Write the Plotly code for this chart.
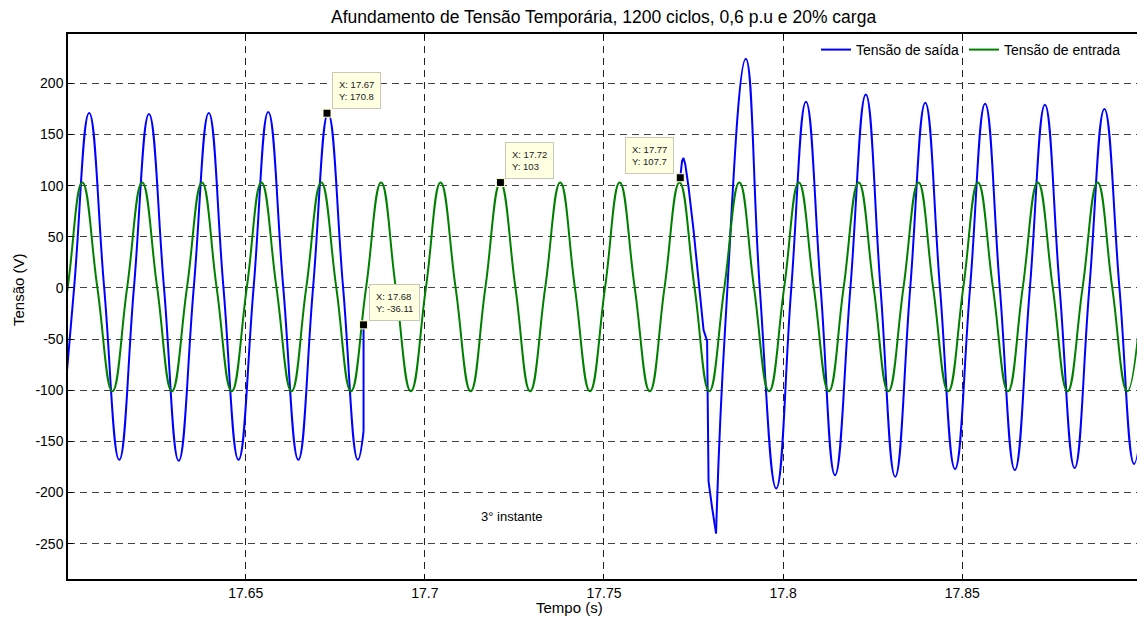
import plotly.graph_objects as go

# ---------------- data ----------------
# Input voltage (green): extreme points and zero crossings (time s, volts)
green_t = [17.5961, 17.6003, 17.6044, 17.6086, 17.6128, 17.6169, 17.6211, 17.6253, 17.6294,
           17.6336, 17.6378, 17.6419, 17.6461, 17.6503, 17.6544, 17.6586, 17.6628, 17.6669,
           17.6711, 17.6753, 17.6794, 17.6836, 17.6878, 17.6919, 17.6961, 17.7003, 17.7044,
           17.7086, 17.7128, 17.7169, 17.7211, 17.7253, 17.7294, 17.7336, 17.7378, 17.7419,
           17.7461, 17.7503, 17.7544, 17.7586, 17.7628, 17.7669, 17.7711, 17.7753, 17.7794,
           17.7836, 17.7878, 17.7919, 17.7961, 17.8003, 17.8044, 17.8086, 17.8128, 17.8169,
           17.8211, 17.8253, 17.8294, 17.8336, 17.8378, 17.8419, 17.8461, 17.8503, 17.8544,
           17.8586, 17.8628, 17.8669, 17.8711, 17.8753, 17.8794, 17.8836, 17.8878, 17.8919,
           17.8961, 17.9003]
green_v = [-101, 0, 103, 0, -101, 0, 103, 0, -101,
           0, 103, 0, -101, 0, 103, 0, -101, 0,
           103, 0, -101, 0, 103, 0, -101, 0, 103,
           0, -101, 0, 103, 0, -101, 0, 103, 0,
           -101, 0, 103, 0, -101, 0, 103, 0, -101,
           0, 103, 0, -101, 0, 103, 0, -101, 0,
           103, 0, -101, 0, 103, 0, -101, 0, 103,
           0, -101, 0, 103, 0, -101, 0, 103, 0,
           -101, 0]

# Output voltage (blue) before the sag
blue1_t = [17.5980, 17.6021, 17.6063, 17.6105, 17.6147, 17.6188, 17.6230, 17.6272, 17.6313,
           17.6355, 17.6397, 17.6438, 17.6480, 17.6522, 17.6563, 17.6605, 17.6647, 17.6688,
           17.6730, 17.6772, 17.6813, 17.6829]
blue1_v = [-168, 0, 171, 0, -168, 0, 170, 0, -169,
           0, 171, 0, -168, 0, 172, 0, -168, 0,
           170.8, 0, -168, -140]

# Output voltage: step onto the input waveform at the start of the sag
bluejump_t = [17.6829, 17.6829]
bluejump_v = [-140, -36.11]

# Output voltage: recovery transient
blue2a_t = [17.7713, 17.7715, 17.7718, 17.7722, 17.7727, 17.7736, 17.7750, 17.7778,
            17.7785, 17.7788, 17.7790, 17.7792, 17.7802, 17.7813]
blue2a_v = [107.7, 118, 124, 127, 121, 99, 57, -41,
            -50, -52, -120, -189, -215, -240]

# Output voltage after recovery
blue2b_t = [17.7813, 17.7838, 17.7896, 17.7935, 17.7981, 17.8023, 17.8064, 17.8105, 17.8145,
            17.8188, 17.8231, 17.8272, 17.8313, 17.8355, 17.8397, 17.8438, 17.8480, 17.8522,
            17.8564, 17.8605, 17.8647, 17.8689, 17.8731, 17.8772, 17.8814, 17.8855, 17.8897,
            17.8939, 17.8980, 17.9022]
blue2b_v = [-240, -41, 224, 0, -196, 0, 182, 0, -183,
            0, 189, 0, -184.5, 0, 181, 0, -177, 0,
            180, 0, -178, 0, 179, 0, -176, 0, 175,
            0, -172, 0]

# Data tips
tip_x = [17.6727, 17.6829, 17.7211, 17.7713]
tip_y = [170.8, -36.11, 103, 107.7]
tip_text = ["X: 17.67<br>Y: 170.8", "X: 17.68<br>Y: -36.11",
            "X: 17.72<br>Y: 103", "X: 17.77<br>Y: 107.7"]
tip_side = ["right", "right", "right", "left"]

x_ticks = [17.65, 17.7, 17.75, 17.8, 17.85]
x_ticklabels = ["17.65", "17.7", "17.75", "17.8", "17.85"]
y_ticks = [-250, -200, -150, -100, -50, 0, 50, 100, 150, 200]
y_ticklabels = ["-250", "-200", "-150", "-100", "-50", "0", "50", "100", "150", "200"]

title_text = "Afundamento de Tensão Temporária, 1200 ciclos, 0,6 p.u e 20% carga"
x_label = "Tempo (s)"
y_label = "Tensão (V)"
note_text = "3° instante"
note_x, note_y = 17.7244, -223

BLUE = "#0000ff"
GREEN = "#008000"
FONT = "Liberation Sans, Arial, sans-serif"

W, H = 1137, 621
ML, MR, MT, MB = 68, 0, 34, 42
PLOT_L, PLOT_T, PLOT_W, PLOT_H = 68, 34, 1069, 545   # plot area in window pixels


def px_x(px):
    return (px - PLOT_L) / PLOT_W


def px_y(py):
    return (PLOT_T + PLOT_H - py) / PLOT_H


fig = go.Figure()
fig.add_trace(go.Scatter(x=blue1_t, y=blue1_v, mode="lines", name="Tensão de saída",
                         line=dict(color=BLUE, width=2, shape="spline", smoothing=1.3),
                         legendgroup="out"))
fig.add_trace(go.Scatter(x=bluejump_t, y=bluejump_v, mode="lines", showlegend=False,
                         line=dict(color=BLUE, width=2), legendgroup="out"))
fig.add_trace(go.Scatter(x=blue2a_t, y=blue2a_v, mode="lines", showlegend=False,
                         line=dict(color=BLUE, width=2), legendgroup="out"))
fig.add_trace(go.Scatter(x=blue2b_t, y=blue2b_v, mode="lines", showlegend=False,
                         line=dict(color=BLUE, width=2, shape="spline", smoothing=1.3),
                         legendgroup="out"))
fig.add_trace(go.Scatter(x=green_t, y=green_v, mode="lines", name="Tensão de entrada",
                         line=dict(color=GREEN, width=2, shape="spline", smoothing=1.3)))
fig.add_trace(go.Scatter(x=tip_x, y=tip_y, mode="markers", showlegend=False,
                         marker=dict(symbol="square", size=8, color="black",
                                     line=dict(color="#ffffcc", width=1))))

annotations = []
for tx, ty, tt, side in zip(tip_x, tip_y, tip_text, tip_side):
    annotations.append(dict(
        x=tx, y=ty, xref="x", yref="y", text=tt, showarrow=False, align="left",
        xanchor="left" if side == "right" else "right", yanchor="bottom",
        xshift=5 if side == "right" else -6, yshift=4,
        font=dict(family=FONT, size=9.5, color="#222"),
        bgcolor="#ffffe1", bordercolor="#c8c8b4", borderwidth=1, borderpad=6))

annotations.append(dict(x=note_x, y=note_y, xref="x", yref="y", text=note_text,
                        showarrow=False, xanchor="center", yanchor="middle",
                        font=dict(family=FONT, size=13, color="black")))
annotations.append(dict(x=px_x(603), y=px_y(17), xref="paper", yref="paper", text=title_text,
                        showarrow=False, xanchor="center", yanchor="middle",
                        font=dict(family=FONT, size=17.5, color="black")))
annotations.append(dict(x=px_x(569), y=px_y(607), xref="paper", yref="paper", text=x_label,
                        showarrow=False, xanchor="center", yanchor="middle",
                        font=dict(family=FONT, size=15, color="black")))
annotations.append(dict(x=px_x(18), y=px_y(290), xref="paper", yref="paper", text=y_label,
                        showarrow=False, textangle=-90, xanchor="center", yanchor="middle",
                        font=dict(family=FONT, size=15, color="black")))

fig.update_layout(
    width=W, height=H,
    margin=dict(l=ML, r=MR, t=MT, b=MB, pad=0, autoexpand=False),
    paper_bgcolor="white", plot_bgcolor="white",
    font=dict(family=FONT, size=14, color="black"),
    showlegend=True,
    legend=dict(orientation="h", x=px_x(816), xanchor="left", y=1, yanchor="top",
                bgcolor="rgba(0,0,0,0)", font=dict(family=FONT, size=14, color="black"),
                itemwidth=30),
    annotations=annotations,
)
fig.update_xaxes(range=[17.6004, 17.8988], tickvals=x_ticks, ticktext=x_ticklabels,
                 showgrid=True, gridcolor="#222", griddash="7px,5px", gridwidth=1,
                 showline=True, linecolor="black", linewidth=1.5, mirror="ticks",
                 ticks="inside", ticklen=5, tickcolor="black", zeroline=False,
                 tickfont=dict(family=FONT, size=14, color="black"))
fig.update_yaxes(range=[-284.5, 248.2], tickvals=y_ticks, ticktext=y_ticklabels,
                 showgrid=True, gridcolor="#444", griddash="7px,5px", gridwidth=1,
                 showline=True, linecolor="black", linewidth=1.5, mirror=False,
                 ticks="inside", ticklen=5, tickcolor="black", zeroline=False,
                 tickfont=dict(family=FONT, size=14, color="black"))

# remove the default page margin so the figure fills the 1137x621 window exactly
page_fix = ("document.body.style.margin='0';document.body.style.padding='0';"
            "document.body.style.overflow='hidden';"
            "document.documentElement.style.overflow='hidden';")
fig.write_html("out.html", post_script=page_fix, config={"displayModeBar": False})
